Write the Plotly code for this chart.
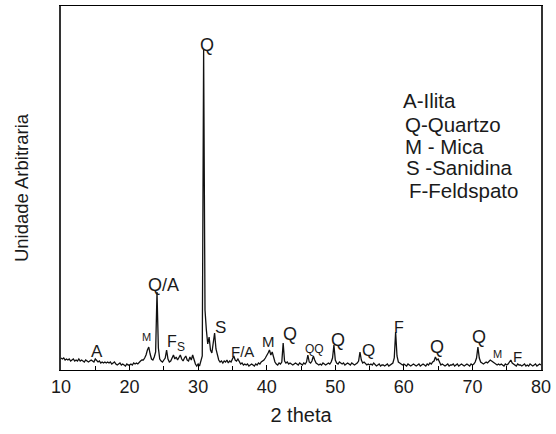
import numpy as np
import plotly.graph_objects as go

# 2-theta sampling grid (0.2 deg steps) and intensities
two_theta = np.round(np.arange(10.0, 80.0001, 0.2), 1)
intensity = [
    12, 11, 12, 10, 11,   # 10
    10, 11, 9, 10, 11,    # 11
    9, 10, 9, 11, 9,      # 12
    10, 9, 8, 10, 9,      # 13
    8, 9, 10, 9, 8,       # 14
    11, 9, 8, 9, 7,       # 15
    8, 7, 8, 7, 8,        # 16
    7, 8, 6, 7, 8,        # 17
    6, 5, 6, 7, 5,        # 18
    6, 5, 4, 6, 5,        # 19
    5, 6, 5, 7, 6,        # 20
    7, 6, 8, 9, 10,       # 21
    10, 12, 15, 20, 23,   # 22
    16, 11, 10, 13, 18,   # 23
    78, 22, 11, 9, 8,     # 24
    10, 12, 20, 11, 8,    # 25
    9, 12, 15, 11, 13,    # 26
    10, 12, 15, 11, 9,    # 27
    12, 14, 10, 9, 13,    # 28
    10, 15, 9, 6, 4,      # 29
    6, 4, 8, 14, 320,     # 30
    60, 40, 26, 33, 20,   # 31
    17, 26, 37, 21, 14,   # 32
    10, 8, 9, 7, 9,       # 33
    8, 10, 7, 9, 8,       # 34
    12, 14, 10, 9, 11,    # 35
    8, 6, 7, 5, 6,        # 36
    5, 6, 4, 5, 6,        # 37
    5, 4, 6, 5, 7,        # 38
    6, 8, 9, 10, 12,      # 39
    14, 17, 20, 15, 18,   # 40
    12, 8, 6, 5, 7,       # 41
    6, 8, 27, 9, 7,       # 42
    8, 6, 7, 6, 5,        # 43
    6, 7, 6, 5, 7,        # 44
    6, 5, 7, 6, 8,        # 45
    15, 8, 7, 9, 14,      # 46
    10, 7, 6, 5, 6,       # 47
    5, 7, 6, 5, 6,        # 48
    7, 6, 8, 12, 25,      # 49
    10, 7, 6, 8, 7,       # 50
    6, 7, 5, 6, 7,        # 51
    6, 5, 7, 6, 5,        # 52
    6, 7, 9, 18, 10,      # 53
    7, 8, 6, 5, 6,        # 54
    5, 6, 5, 7, 5,        # 55
    4, 5, 6, 4, 5,        # 56
    5, 4, 5, 6, 4,        # 57
    5, 6, 7, 12, 38,      # 58
    14, 8, 7, 6, 5,       # 59
    6, 5, 4, 6, 5,        # 60
    4, 5, 6, 5, 4,        # 61
    5, 6, 4, 5, 6,        # 62
    5, 4, 6, 5, 7,        # 63
    6, 8, 9, 13, 10,      # 64
    11, 7, 5, 6, 5,       # 65
    4, 5, 6, 4, 5,        # 66
    5, 6, 4, 5, 6,        # 67
    4, 5, 6, 5, 4,        # 68
    5, 6, 5, 4, 6,        # 69
    5, 6, 8, 12, 23,      # 70
    12, 8, 7, 6, 7,       # 71
    8, 7, 9, 10, 9,       # 72
    8, 7, 6, 5, 6,        # 73
    5, 6, 5, 4, 6,        # 74
    5, 6, 8, 10, 7,       # 75
    6, 5, 4, 6, 5,        # 76
    5, 4, 5, 6, 4,        # 77
    5, 4, 6, 5, 4,        # 78
    5, 6, 4, 5, 6,        # 79
    5,                    # 80
]

# Peak labels: text, 2-theta, intensity level, font size
peak_text = ["A", "M", "Q/A", "F", "S", "Q", "S", "F/A", "M", "Q", "QQ",
             "Q", "Q", "F", "Q", "Q", "M", "F"]
peak_x = [15.25, 22.5, 24.9, 26.2, 27.5, 31.3, 33.2, 36.5, 40.2, 43.4, 46.9,
          50.4, 54.8, 59.3, 64.8, 71.0, 73.6, 76.6]
peak_y = [19, 33, 85, 29, 23, 325, 43, 19, 29, 36, 21,
          30, 20, 43, 23, 33, 16, 14]
peak_size = [17, 11, 18, 16, 12, 18, 17, 15, 15, 18, 12,
             18, 17, 16, 18, 18, 11, 15]

legend_lines = ["A-Ilita", "Q-Quartzo", "M - Mica", "S -Sanidina", "F-Feldspato"]
legend_x = [59.6, 59.9, 59.9, 60.0, 60.5]
legend_y = [270, 246, 224, 203, 180]

FONT = "Liberation Sans, Arial, sans-serif"

fig = go.Figure()
fig.add_trace(go.Scatter(
    x=two_theta, y=intensity, mode="lines",
    line=dict(color="#111111", width=1.3), showlegend=False, hoverinfo="skip"))

annotations = []
for t, x, y, s in zip(peak_text, peak_x, peak_y, peak_size):
    annotations.append(dict(x=x, y=y, xref="x", yref="y", text=t, showarrow=False,
                            font=dict(family=FONT, size=s, color="#1a1a1a")))
for t, x, y in zip(legend_lines, legend_x, legend_y):
    annotations.append(dict(x=x, y=y, xref="x", yref="y", text=t, showarrow=False,
                            xanchor="left", font=dict(family=FONT, size=20.5, color="#1a1a1a")))

fig.update_layout(
    width=556, height=434,
    margin=dict(l=61, r=15, t=6, b=64),
    paper_bgcolor="white", plot_bgcolor="white",
    font=dict(family=FONT, color="#1a1a1a"),
    annotations=annotations,
    xaxis=dict(range=[10, 80], tickmode="linear", tick0=10, dtick=10,
               ticks="inside", ticklen=5, tickcolor="black",
               minor=dict(ticks="inside", dtick=5, ticklen=4, tickcolor="black"),
               showgrid=False, zeroline=False, showline=True, linecolor="black",
               linewidth=1, mirror=True, tickfont=dict(size=18),
               title=dict(text="2 theta", font=dict(size=20), standoff=12)),
    yaxis=dict(range=[0, 364], showticklabels=False, ticks="", showgrid=False,
               zeroline=False, showline=True, linecolor="#333333", linewidth=1.5,
               mirror=True,
               title=dict(text="Unidade Arbitraria", font=dict(size=18.5), standoff=26)),
)

fig.write_html("out.html", config={"displayModeBar": False},
               post_script="document.body.style.margin='0';document.body.style.overflow='hidden';")
